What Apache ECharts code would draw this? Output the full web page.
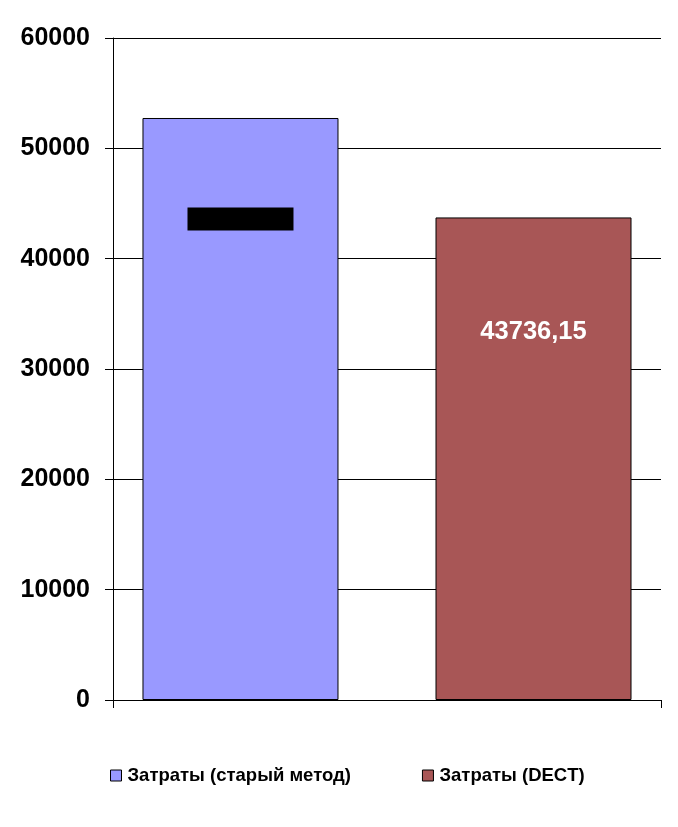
<!DOCTYPE html>
<html>
<head>
<meta charset="utf-8">
<script src="https://cdn.jsdelivr.net/npm/echarts@6/dist/echarts.min.js"></script>
<style>
html,body{margin:0;padding:0;background:#fff;}
#chart{width:678px;height:827px;}
</style>
</head>
<body>
<div id="chart"></div>
<script>
var categories = ['Затраты'];
var seriesNames = ['Затраты (старый метод)', 'Затраты (DECT)'];
var oldMethod = [52750];
var dect = [43736.15];
var yTicks = [0, 10000, 20000, 30000, 40000, 50000, 60000];
var colors = ['#9999FF', '#A85656'];

var chart = echarts.init(document.getElementById('chart'));
var font = '"Liberation Sans", Arial, sans-serif';
function fmt(v){ return String(v).replace('.', ','); }

chart.setOption({
  animation: false,
  grid: { left: 113, right: 17, top: 38, bottom: 127 },
  legend: {
    bottom: 42, left: 110, padding: 0,
    itemWidth: 11, itemHeight: 11, itemGap: 71,
    icon: 'rect',
    textStyle: { fontFamily: font, fontWeight: 'bold', fontSize: 18.5, color: '#000', padding: [0,0,0,1] },
    data: seriesNames.map(function(n){ return { name: n, itemStyle: { borderColor: '#000', borderWidth: 1 } }; })
  },
  xAxis: {
    type: 'category',
    data: categories,
    axisLine: { show: true, lineStyle: { color: '#000', width: 1 } },
    axisTick: { show: true, length: 8, interval: 0, lineStyle: { color: '#000' } },
    axisLabel: { show: false }
  },
  yAxis: {
    type: 'value',
    min: yTicks[0], max: yTicks[yTicks.length-1], interval: 10000,
    axisLine: { show: true, lineStyle: { color: '#000', width: 1 } },
    axisTick: { show: true, length: 8, lineStyle: { color: '#000' } },
    splitLine: { show: true, lineStyle: { color: '#000', width: 1 } },
    axisLabel: { margin: 23, fontFamily: font, fontWeight: 'bold', fontSize: 25, color: '#000',
      formatter: function(v){ return String(v); } }
  },
  series: [
    {
      name: seriesNames[0], type: 'bar',
      barWidth: 196, barGap: '49.5%',
      itemStyle: { color: colors[0], borderColor: '#000', borderWidth: 1 },
      data: [{ value: oldMethod[0], label: {
        show: true, position: ['50%', 101], align: 'center', verticalAlign: 'middle',
        formatter: function(p){ return fmt(p.value); },
        color: '#000', backgroundColor: '#000', width: 106, height: 23, lineHeight: 23,
        fontSize: 16, fontFamily: font, overflow: 'truncate'
      } }]
    },
    {
      name: seriesNames[1], type: 'bar',
      barWidth: 196, barGap: '49.5%',
      itemStyle: { color: colors[1], borderColor: '#000', borderWidth: 1 },
      data: [{ value: dect[0], label: {
        show: true, position: ['50%', 115], align: 'center', verticalAlign: 'middle',
        formatter: function(p){ return fmt(p.value); },
        color: '#fff', fontSize: 25.5, fontWeight: 'bold', fontFamily: font
      } }]
    }
  ]
});
</script>
</body>
</html>
